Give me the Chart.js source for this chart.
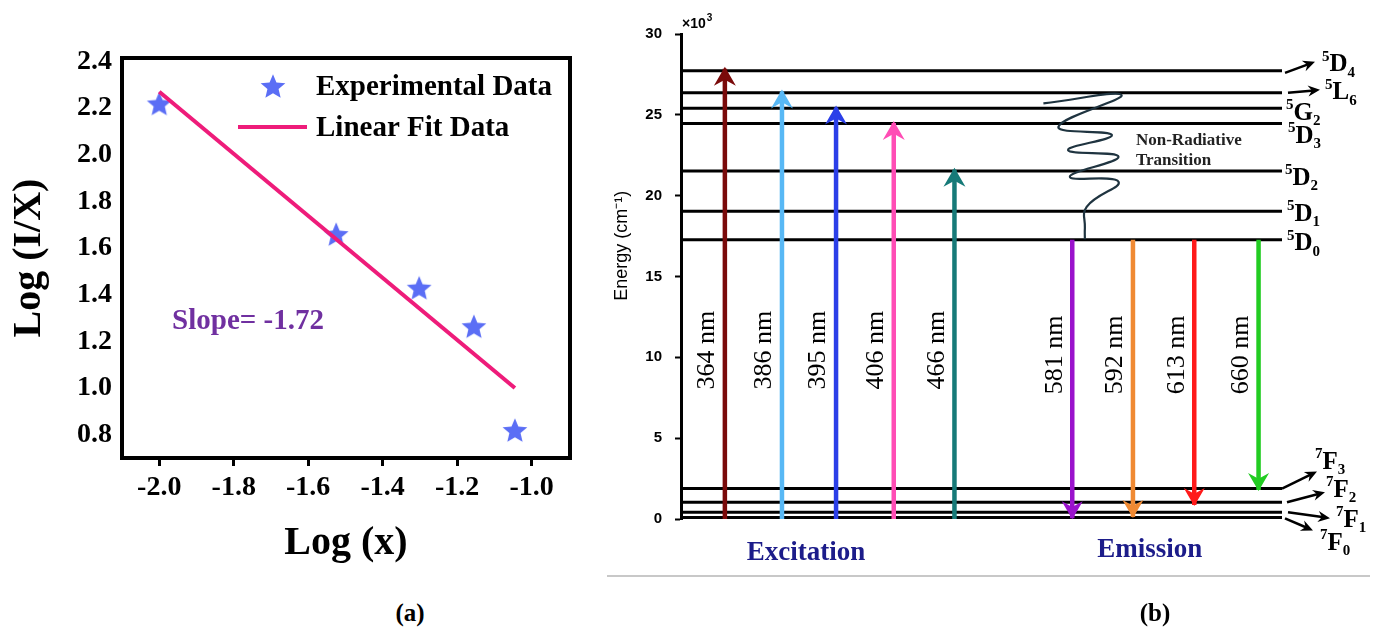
<!DOCTYPE html>
<html>
<head>
<meta charset="utf-8">
<script src="https://cdn.jsdelivr.net/npm/chart.js@4.4.1/dist/chart.umd.min.js"></script>
<style>
  html, body { margin: 0; padding: 0; background: #fff; }
  body { width: 1375px; height: 633px; position: relative; overflow: hidden; }
  #left { position: absolute; left: 0; top: 0; width: 600px; height: 580px; }
  #right { position: absolute; left: 600px; top: 0; width: 775px; height: 600px; }
  #rule { position: absolute; left: 607px; top: 575px; width: 763px; height: 2px; background: #c8c8c8; }
  .tag { position: absolute; transform: translate(-50%, -50%); font: bold 25px "Liberation Serif", "Times New Roman", serif; color: #000; }
</style>
</head>
<body>
<div id="left"><canvas id="fitChart"></canvas></div>
<div id="right"><canvas id="levelChart"></canvas></div>
<div id="rule"></div>
<div class="tag" style="left:410px; top:613px">(a)</div>
<div class="tag" style="left:1155px; top:613px">(b)</div>
<script>
// ---- panel (a) data ----
const logX = [-2.0, -1.525, -1.302, -1.155, -1.045];
const logIX = [2.22, 1.66, 1.43, 1.265, 0.82];
const fitX = [-2.0, -1.045];
const fitY = [2.27, 1.0];
const xTickVals = [-2.0, -1.8, -1.6, -1.4, -1.2, -1.0];
const yTickVals = [0.8, 1.0, 1.2, 1.4, 1.6, 1.8, 2.0, 2.2, 2.4];

// ---- panel (b) data (energy in 10^3 cm-1) ----
const levelNames = ["5D4", "5L6", "5G2", "5D3", "5D2", "5D1", "5D0", "7F3", "7F2", "7F1", "7F0"];
const levelEnergy = [27.72, 26.36, 25.40, 24.47, 21.52, 19.04, 17.27, 1.88, 1.04, 0.42, 0.10];
const excLabels = ["364 nm", "386 nm", "395 nm", "406 nm", "466 nm"];
const excPos = [7.3, 16.8, 25.8, 35.4, 45.5];
const excTop = [27.85, 26.45, 25.45, 24.5, 21.6];
const emiLabels = ["581 nm", "592 nm", "613 nm", "660 nm"];
const emiPos = [65.1, 75.2, 85.4, 96.1];
const emiFrom = 17.27;
const emiBottom = [0.04, 0.12, 0.87, 1.8];
const waveX = [60.3, 73.3, 62.8, 71.7, 64.4, 72.8, 64.7, 72.8, 67.5, 67.2, 67.2];
const waveY = [25.71, 26.22, 24.26, 23.75, 22.82, 22.41, 21.17, 20.86, 19.31, 18.0, 17.3];

// ---- styles ----
const SERIF = '"Liberation Serif", "Times New Roman", serif';
const SANS = '"Liberation Sans", Arial, sans-serif';
const excColors = ["#7a0a0a", "#58b8f5", "#2b3fe8", "#ff4db5", "#167a78"];
const emiColors = ["#9a12cc", "#f08a33", "#ff1a1a", "#22cc22"];
// label offsets from the right end of each level line: [dx, dy]
const termOffset = [[40, -6], [43, 0], [4, 5], [6, 13], [3, 7], [5, 3], [5, 4], [33, -26], [44, -12], [54, 8], [38, 26]];
// small pointer arrows next to some level labels: [x0, y0, x1, y1]
const termArrow = [[3, 2, 33, -9], [6, 0, 38, -3], null, null, null, null, null,
  [0, 0, 35, -17], [5, 0, 43, -10], [6, 0, 48, 6], [3, 1, 31, 13]];

Chart.defaults.font.family = SERIF;
Chart.defaults.color = "#000";

function makeStar(size, color) {
  const c = document.createElement("canvas");
  c.width = c.height = size;
  const g = c.getContext("2d");
  const r = size / 2, ri = r * 0.45;
  g.beginPath();
  for (let i = 0; i < 10; i++) {
    const rr = i % 2 ? ri : r;
    const a = -Math.PI / 2 + (i * Math.PI) / 5;
    g.lineTo(r + rr * Math.cos(a), r * 1.1 + rr * Math.sin(a));
  }
  g.closePath();
  g.fillStyle = color;
  g.fill();
  return c;
}
const starImg = makeStar(26, "#5b6ef5");

const leftDecor = {
  id: "leftDecor",
  afterDraw(chart) {
    const { ctx, chartArea: a } = chart;
    ctx.save();
    ctx.strokeStyle = "#000";
    ctx.lineWidth = 4;
    ctx.strokeRect(a.left, a.top, a.right - a.left, a.bottom - a.top);
    // legend
    ctx.drawImage(starImg, a.left + 151 - 13, a.top + 28 - 13);
    ctx.strokeStyle = "#ee1c7a";
    ctx.lineWidth = 4;
    ctx.beginPath();
    ctx.moveTo(a.left + 116, a.top + 69);
    ctx.lineTo(a.left + 185, a.top + 69);
    ctx.stroke();
    ctx.fillStyle = "#000";
    ctx.font = `bold 29px ${SERIF}`;
    ctx.textBaseline = "middle";
    ctx.textAlign = "left";
    ctx.fillText("Experimental Data", a.left + 194, a.top + 30);
    ctx.fillText("Linear Fit Data", a.left + 194, a.top + 71);
    ctx.fillStyle = "#7030a0";
    ctx.textAlign = "center";
    ctx.fillText("Slope= -1.72", a.left + 126, a.top + 264);
    ctx.restore();
  },
};

new Chart(document.getElementById("fitChart"), {
  type: "line",
  data: {
    datasets: [
      {
        label: "Linear Fit Data",
        data: fitX.map((x, i) => ({ x, y: fitY[i] })),
        borderColor: "#ee1c7a",
        borderWidth: 4,
        pointRadius: 0,
        order: 0,
      },
      {
        label: "Experimental Data",
        data: logX.map((x, i) => ({ x, y: logIX[i] })),
        showLine: false,
        pointStyle: starImg,
        order: 1,
      },
    ],
  },
  options: {
    responsive: true,
    maintainAspectRatio: false,
    animation: false,
    devicePixelRatio: 1,
    layout: { padding: { left: 0, top: 58, right: 30, bottom: 0 } },
    plugins: { legend: { display: false }, tooltip: { enabled: false } },
    scales: {
      x: {
        type: "linear",
        min: -2.1,
        max: -0.897,
        afterBuildTicks: (s) => { s.ticks = xTickVals.map((v) => ({ value: v })); },
        afterFit: (s) => { s.height = 122; },
        ticks: {
          callback: (v) => v.toFixed(1),
          font: { size: 28, weight: "bold" },
          color: "#000",
          padding: 5,
          maxRotation: 0,
          autoSkip: false,
        },
        grid: { drawOnChartArea: false, tickLength: 8, tickWidth: 3, tickColor: "#000" },
        border: { display: false },
        title: {
          display: true,
          text: "Log (x)",
          font: { size: 40, weight: "bold" },
          color: "#000",
          padding: { top: 0, bottom: 12 },
        },
      },
      y: {
        min: 0.7,
        max: 2.415,
        afterBuildTicks: (s) => { s.ticks = yTickVals.map((v) => ({ value: v })); },
        afterFit: (s) => { s.width = 122; },
        ticks: {
          callback: (v) => v.toFixed(1),
          font: { size: 28, weight: "bold" },
          color: "#000",
          padding: 10,
        },
        grid: { display: false, drawTicks: false },
        border: { display: false },
        title: {
          display: true,
          text: "Log (I/X)",
          font: { size: 40, weight: "bold" },
          color: "#000",
          padding: { top: 6, bottom: 0 },
        },
      },
    },
  },
  plugins: [leftDecor],
});

// ---- panel (b) ----
function arrowHead(ctx, x, y, dir, len, half, color) {
  // dir: unit vector pointing toward the tip
  const [ux, uy] = dir;
  const px = -uy, py = ux;
  ctx.fillStyle = color;
  ctx.beginPath();
  ctx.moveTo(x, y);
  ctx.lineTo(x - ux * len + px * half, y - uy * len + py * half);
  ctx.lineTo(x - ux * len * 0.68, y - uy * len * 0.68);
  ctx.lineTo(x - ux * len - px * half, y - uy * len - py * half);
  ctx.closePath();
  ctx.fill();
}

function drawTerm(ctx, name, x, cy) {
  ctx.textAlign = "left";
  ctx.textBaseline = "middle";
  ctx.font = `bold 15px ${SERIF}`;
  ctx.fillText(name[0], x, cy - 8);
  const w1 = ctx.measureText(name[0]).width;
  ctx.font = `bold 25px ${SERIF}`;
  ctx.fillText(name[1], x + w1, cy);
  const w2 = ctx.measureText(name[1]).width;
  ctx.font = `bold 15px ${SERIF}`;
  ctx.fillText(name[2], x + w1 + w2, cy + 8);
}

const rightDecor = {
  id: "rightDecor",
  afterDraw(chart) {
    const { ctx, chartArea: a, scales: { x, y } } = chart;
    ctx.save();
    // arrowheads
    excPos.forEach((p, i) => {
      arrowHead(ctx, x.getPixelForValue(p), y.getPixelForValue(excTop[i]) - 2, [0, -1], 19, 11, excColors[i]);
    });
    emiPos.forEach((p, i) => {
      arrowHead(ctx, x.getPixelForValue(p), y.getPixelForValue(emiBottom[i]) + 1, [0, 1], 18, 10.5, emiColors[i]);
    });
    // wavelength labels
    ctx.fillStyle = "#000";
    ctx.font = `26px ${SERIF}`;
    ctx.textAlign = "center";
    ctx.textBaseline = "middle";
    const put = (label, p, e) => {
      ctx.save();
      ctx.translate(x.getPixelForValue(p) - 17.5, y.getPixelForValue(e));
      ctx.rotate(-Math.PI / 2);
      ctx.fillText(label, 0, 0);
      ctx.restore();
    };
    excLabels.forEach((l, i) => put(l, excPos[i], 10.45));
    emiLabels.forEach((l, i) => put(l, emiPos[i], 10.15));
    // term labels and pointers
    const xEnd = x.getPixelForValue(100);
    levelNames.forEach((n, i) => {
      const ly = y.getPixelForValue(levelEnergy[i]);
      ctx.fillStyle = "#000";
      drawTerm(ctx, n, xEnd + termOffset[i][0], ly + termOffset[i][1]);
      const ar = termArrow[i];
      if (ar) {
        const x0 = xEnd + ar[0], y0 = ly + ar[1], x1 = xEnd + ar[2], y1 = ly + ar[3];
        const d = Math.hypot(x1 - x0, y1 - y0);
        const u = [(x1 - x0) / d, (y1 - y0) / d];
        ctx.strokeStyle = "#000";
        ctx.lineWidth = 2.5;
        ctx.beginPath();
        ctx.moveTo(x0, y0);
        ctx.lineTo(x1 - u[0] * 6, y1 - u[1] * 6);
        ctx.stroke();
        arrowHead(ctx, x1, y1, u, 12, 5.5, "#000");
      }
    });
    // non-radiative note
    ctx.fillStyle = "#222";
    ctx.font = `bold 17px ${SERIF}`;
    ctx.textAlign = "left";
    ctx.fillText("Non-Radiative", x.getPixelForValue(75.7), y.getPixelForValue(23.38));
    ctx.fillText("Transition", x.getPixelForValue(75.7), y.getPixelForValue(22.14));
    // x10^3 multiplier
    ctx.fillStyle = "#000";
    ctx.font = `bold 14px ${SANS}`;
    ctx.fillText("\u00d710", a.left + 1, a.top - 10);
    const wm = ctx.measureText("\u00d710").width;
    ctx.font = `bold 10px ${SANS}`;
    ctx.fillText("3", a.left + 1 + wm + 1, a.top - 16);
    // axis title
    ctx.save();
    ctx.translate(a.left - 59, y.getPixelForValue(16.9));
    ctx.rotate(-Math.PI / 2);
    ctx.textAlign = "center";
    ctx.font = `18px ${SANS}`;
    ctx.fillText("Energy (cm\u207b\u00b9)", 0, 0);
    ctx.restore();
    // group captions
    ctx.fillStyle = "#1c1c8a";
    ctx.font = `bold 27px ${SERIF}`;
    ctx.textAlign = "center";
    ctx.fillText("Excitation", x.getPixelForValue(20.8), a.bottom + 34);
    ctx.fillText("Emission", x.getPixelForValue(78.0), a.bottom + 31);
    ctx.restore();
  },
};

const levelSets = levelEnergy.map((e, i) => ({
  label: levelNames[i],
  data: [{ x: 0.3, y: e }, { x: 100, y: e }],
  borderColor: "#000",
  borderWidth: 3,
  pointRadius: 0,
  order: 3,
}));
const excSets = excPos.map((p, i) => ({
  label: excLabels[i],
  data: [{ x: p, y: 0 }, { x: p, y: excTop[i] }],
  borderColor: excColors[i],
  borderWidth: 4.5,
  pointRadius: 0,
  order: 2,
}));
const emiSets = emiPos.map((p, i) => ({
  label: emiLabels[i],
  data: [{ x: p, y: emiFrom }, { x: p, y: emiBottom[i] }],
  borderColor: emiColors[i],
  borderWidth: 4.5,
  pointRadius: 0,
  order: 2,
}));
const waveSet = {
  label: "Non-Radiative Transition",
  data: waveX.map((x, i) => ({ x, y: waveY[i] })),
  borderColor: "#1f3440",
  borderWidth: 2.2,
  pointRadius: 0,
  tension: 0.45,
  order: 1,
};

new Chart(document.getElementById("levelChart"), {
  type: "line",
  data: { datasets: [...levelSets, ...excSets, ...emiSets, waveSet] },
  options: {
    responsive: true,
    maintainAspectRatio: false,
    animation: false,
    devicePixelRatio: 1,
    layout: { padding: { left: 0, top: 34, right: 93, bottom: 81 } },
    plugins: { legend: { display: false }, tooltip: { enabled: false } },
    scales: {
      x: { type: "linear", min: 0, max: 100, display: false },
      y: {
        min: 0,
        max: 30,
        afterFit: (s) => { s.width = 81; },
        ticks: { stepSize: 5, font: { family: SANS, size: 15, weight: "bold" }, color: "#000", padding: 13 },
        grid: { drawOnChartArea: false, tickLength: 6, tickWidth: 2, tickColor: "#000" },
        border: { display: true, color: "#000", width: 3 },
      },
    },
  },
  plugins: [rightDecor],
});
</script>
</body>
</html>
